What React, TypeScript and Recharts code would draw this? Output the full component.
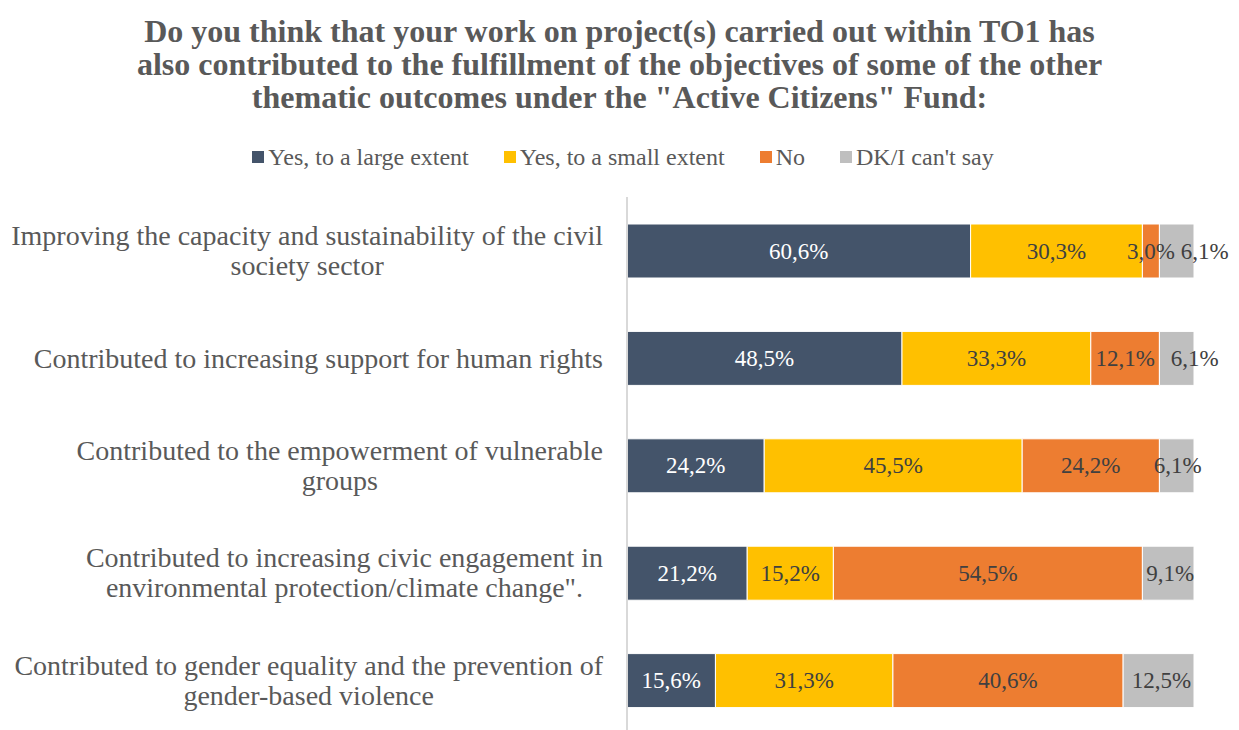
import { BarChart, Bar, XAxis, YAxis, LabelList } from "recharts";

const categories = [
  "Improving the capacity and sustainability of the civil society sector",
  "Contributed to increasing support for human rights",
  "Contributed to the empowerment of vulnerable groups",
  "Contributed to increasing civic engagement in environmental protection/climate change\".",
  "Contributed to gender equality and the prevention of gender-based violence",
];

// how each category label wraps on the axis
const categoryLines = [
  ["Improving the capacity and sustainability of the civil", "society sector"],
  ["Contributed to increasing support for human rights"],
  ["Contributed to the empowerment of vulnerable", "groups"],
  ["Contributed to increasing civic engagement in", "environmental protection/climate change\"."],
  ["Contributed to gender equality and the prevention of", "gender-based violence"],
];

const largeExtent = [60.6, 48.5, 24.2, 21.2, 15.6];
const smallExtent = [30.3, 33.3, 45.5, 15.2, 31.3];
const noAnswer = [3.0, 12.1, 24.2, 54.5, 40.6];
const dontKnow = [6.1, 6.1, 6.1, 9.1, 12.5];

const seriesNames = ["Yes, to a large extent", "Yes, to a small extent", "No", "DK/I can't say"];
const colors = ["#44546A", "#FFC000", "#ED7D31", "#BFBFBF"];

const data = categories.map((c, i) => ({
  name: c,
  large: largeExtent[i],
  small: smallExtent[i],
  no: noAnswer[i],
  dk: dontKnow[i],
}));

const FONT = '"Liberation Serif", "Times New Roman", serif';
const TICK_SIZE = 28;

const fmt = (v: number) => v.toFixed(1).replace(".", ",") + "%";

let ctx: CanvasRenderingContext2D | null = null;
const measure = (s: string) => {
  if (!ctx) ctx = document.createElement("canvas").getContext("2d");
  if (!ctx) return s.length * TICK_SIZE * 0.42;
  ctx.font = `${TICK_SIZE}px ${FONT}`;
  return ctx.measureText(s).width;
};

const makeLabel = (fill: string, shift?: number[]) => (props: any) => {
  const { x, y, width, height, value, index } = props;
  const dx = shift ? shift[index] || 0 : 0;
  return (
    <text
      x={Number(x) + Number(width) / 2 + dx}
      y={Number(y) + Number(height) / 2}
      textAnchor="middle"
      dominantBaseline="central"
      fill={fill}
      fontSize={23}
      fontFamily={FONT}
    >
      {fmt(Number(value))}
    </text>
  );
};

// right-aligned block, lines centred inside it
const CategoryTick = (props: any) => {
  const { x, y, index } = props;
  const lines = categoryLines[index] || [];
  const lh = 30;
  const start = -((lines.length - 1) * lh) / 2;
  const maxW = Math.max(...lines.map(measure));
  const cx = x - maxW / 2;
  return (
    <text x={cx} y={y} textAnchor="middle" fill="#595959" fontSize={TICK_SIZE} fontFamily={FONT}>
      {lines.map((l, k) => (
        <tspan key={k} x={cx} y={y + start + k * lh} dominantBaseline="central">
          {l}
        </tspan>
      ))}
    </text>
  );
};

const App = () => {
  return (
    <div
      style={{
        position: "absolute",
        left: 0,
        top: 0,
        width: 1239,
        height: 730,
        overflow: "hidden",
        background: "#fff",
        fontFamily: FONT,
      }}
    >
      <div
        style={{
          position: "absolute",
          left: 0,
          top: 15,
          width: 1239,
          textAlign: "center",
          fontSize: 32,
          fontWeight: "bold",
          lineHeight: "33px",
          color: "#595959",
        }}
      >
        Do you think that your work on project(s) carried out within TO1 has
        <br />
        also contributed to the fulfillment of the objectives of some of the other
        <br />
        thematic outcomes under the "Active Citizens" Fund:
      </div>
      <div
        style={{
          position: "absolute",
          left: 7,
          top: 143,
          width: 1232,
          display: "flex",
          justifyContent: "center",
          fontSize: 24,
          color: "#595959",
          lineHeight: "28px",
        }}
      >
        {seriesNames.map((s, i) => (
          <div key={s} style={{ display: "flex", alignItems: "center", marginRight: i < 3 ? 35 : 0 }}>
            <span style={{ display: "inline-block", width: 12, height: 12, background: colors[i], marginRight: 4 }} />
            {s}
          </div>
        ))}
      </div>
      <div style={{ position: "absolute", left: 0, top: 0 }}>
        <BarChart
          width={1239}
          height={736}
          data={data}
          layout="vertical"
          margin={{ top: 197, right: 45, bottom: 2, left: 0 }}
          barSize={54}
        >
          <XAxis type="number" domain={[0, 100]} hide />
          <YAxis
            type="category"
            dataKey="name"
            width={627}
            axisLine={{ stroke: "#D9D9D9", strokeWidth: 2 }}
            tickLine={false}
            tickMargin={18}
            tick={<CategoryTick />}
            interval={0}
          />
          <Bar dataKey="large" stackId="a" fill={colors[0]} stroke="#fff" strokeWidth={1} isAnimationActive={false}>
            <LabelList dataKey="large" content={makeLabel("#FFFFFF")} />
          </Bar>
          <Bar dataKey="small" stackId="a" fill={colors[1]} stroke="#fff" strokeWidth={1} isAnimationActive={false}>
            <LabelList dataKey="small" content={makeLabel("#404040")} />
          </Bar>
          <Bar dataKey="no" stackId="a" fill={colors[2]} stroke="#fff" strokeWidth={1} isAnimationActive={false}>
            <LabelList dataKey="no" content={makeLabel("#404040")} />
          </Bar>
          <Bar dataKey="dk" stackId="a" fill={colors[3]} stroke="#fff" strokeWidth={1} isAnimationActive={false}>
            <LabelList dataKey="dk" content={makeLabel("#404040", [28, 18, 1, 2, 3])} />
          </Bar>
        </BarChart>
      </div>
    </div>
  );
};

export default App;
